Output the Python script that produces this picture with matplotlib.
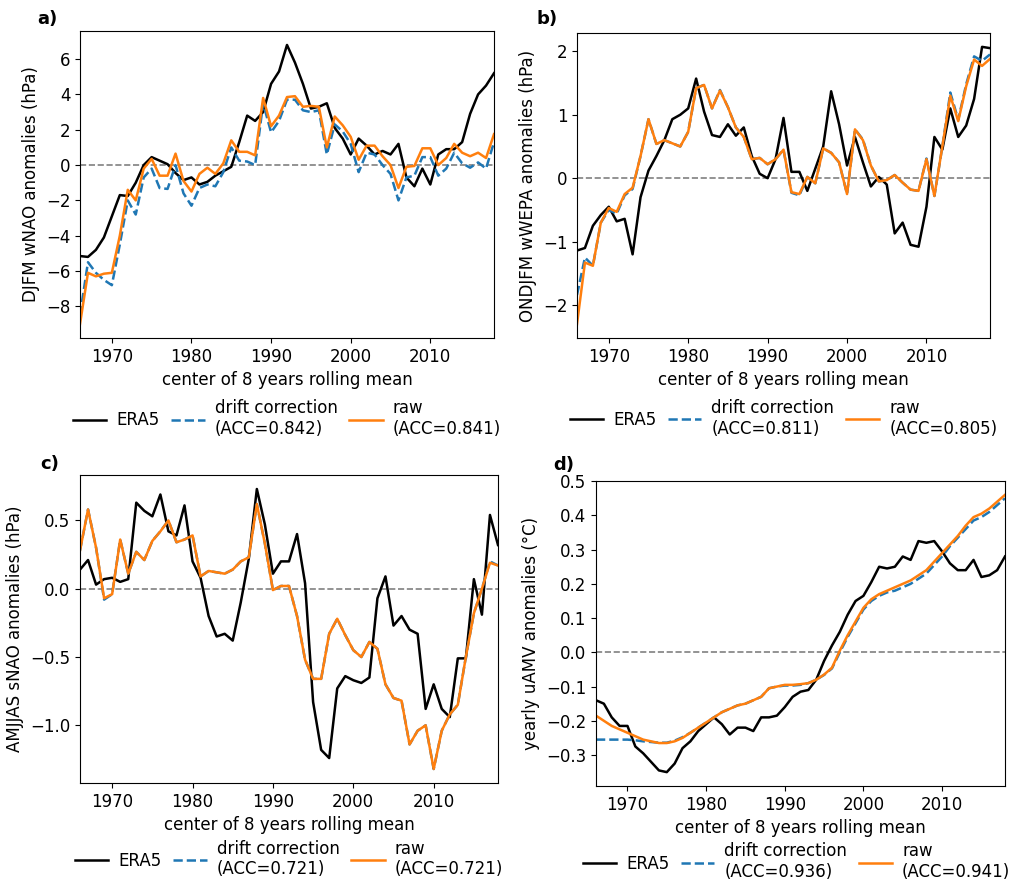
import numpy as np
import matplotlib
matplotlib.use("Agg")
import matplotlib.pyplot as plt

plt.rcParams['font.size'] = 12

# center years of the 8-year rolling mean
years = np.arange(1966, 2019)

# a) DJFM wNAO
era5_a = [-5.15, -5.2, -4.8, -4.1, -2.9, -1.7, -1.75, -1.0, 0.0, 0.45,
          0.25, 0.05, -0.45, -0.85, -0.7, -1.1, -0.95, -0.6, -0.35, -0.1,
          1.3, 2.8, 2.5, 3.0, 4.6, 5.3, 6.8, 5.8, 4.6, 3.2,
          3.3, 3.5, 2.1, 1.5, 0.6, 1.5, 1.1, 0.6, 0.8, 0.6,
          1.2, -0.7, -1.2, -0.2, -1.1, 0.6, 0.9, 0.9, 1.3, 2.9,
          4.0, 4.5, 5.2]
drift_a = [-8.5, -5.5, -6.1, -6.5, -6.8, -4.5, -2.0, -2.8, -0.7, -0.2,
           -1.3, -1.35, 0.0, -1.6, -2.3, -1.3, -1.1, -1.2, -0.4, 1.0,
           0.25, 0.2, 0.0, 3.5, 1.85, 2.5, 3.7, 3.7, 3.1, 3.0,
           3.1, 0.6, 2.3, 1.9, 1.2, -0.4, 0.7, 0.6, 0.0, -0.5,
           -2.0, -0.7, -0.6, 0.45, 0.45, -0.6, -0.2, 0.7, 0.1, -0.15,
           0.15, -0.2, 1.3]
raw_a = [-9.0, -6.1, -6.3, -6.15, -6.1, -4.0, -1.4, -2.0, -0.2, 0.35,
         -0.6, -0.6, 0.65, -0.9, -1.5, -0.5, -0.15, -0.5, 0.1, 1.4,
         0.75, 0.75, 0.55, 3.8, 2.2, 2.8, 3.85, 3.9, 3.3, 3.35,
         3.3, 1.0, 2.75, 2.25, 1.6, 0.3, 1.1, 1.1, 0.5, 0.0,
         -1.3, -0.1, -0.05, 0.95, 0.95, 0.0, 0.4, 1.2, 0.7, 0.5,
         0.7, 0.4, 1.75]

# b) ONDJFM wWEPA
era5_b = [-1.14, -1.1, -0.75, -0.58, -0.45, -0.68, -0.64, -1.2, -0.3, 0.12,
          0.35, 0.6, 0.93, 1.0, 1.1, 1.57, 1.05, 0.68, 0.65, 0.85,
          0.67, 0.8, 0.35, 0.07, 0.0, 0.3, 0.95, 0.1, 0.1, -0.2,
          0.15, 0.5, 1.37, 0.85, 0.2, 0.65, 0.25, -0.13, 0.02, -0.1,
          -0.87, -0.7, -1.05, -1.08, -0.45, 0.65, 0.45, 1.1, 0.65, 0.83,
          1.25, 2.07, 2.05]
drift_b = [-1.84, -1.25, -1.38, -0.7, -0.5, -0.56, -0.27, -0.17, 0.35, 0.93,
           0.54, 0.6, 0.55, 0.5, 0.73, 1.42, 1.47, 1.1, 1.39, 1.12,
           0.8, 0.65, 0.3, 0.32, 0.22, 0.3, 0.45, -0.23, -0.27, 0.02,
           -0.08, 0.47, 0.4, 0.25, -0.25, 0.77, 0.61, 0.2, -0.05, -0.03,
           0.05, -0.07, -0.18, -0.2, 0.31, -0.28, 0.5, 1.35, 0.92, 1.48,
           1.92, 1.85, 1.95]
raw_b = [-2.3, -1.33, -1.38, -0.7, -0.47, -0.53, -0.25, -0.15, 0.35, 0.93,
         0.54, 0.6, 0.55, 0.5, 0.73, 1.42, 1.47, 1.1, 1.38, 1.12,
         0.8, 0.65, 0.3, 0.32, 0.22, 0.3, 0.45, -0.22, -0.25, 0.02,
         -0.08, 0.47, 0.4, 0.25, -0.25, 0.77, 0.6, 0.2, -0.05, -0.03,
         0.05, -0.07, -0.18, -0.2, 0.3, -0.28, 0.5, 1.3, 0.9, 1.45,
         1.87, 1.77, 1.88]

# c) AMJJAS sNAO
era5_c = [0.14, 0.21, 0.03, 0.07, 0.08, 0.05, 0.07, 0.63, 0.57, 0.53,
          0.69, 0.42, 0.39, 0.61, 0.2, 0.08, -0.2, -0.35, -0.33, -0.38,
          -0.1, 0.22, 0.73, 0.47, 0.11, 0.2, 0.2, 0.4, 0.04, -0.83,
          -1.18, -1.24, -0.73, -0.64, -0.67, -0.69, -0.65, -0.07, 0.09, -0.27,
          -0.2, -0.3, -0.33, -0.88, -0.7, -0.88, -0.94, -0.51, -0.51, 0.07,
          -0.19, 0.54, 0.32]
drift_c = [0.28, 0.58, 0.3, -0.08, -0.04, 0.36, 0.11, 0.27, 0.21, 0.35,
           0.42, 0.5, 0.34, 0.36, 0.39, 0.09, 0.13, 0.12, 0.11, 0.14,
           0.2, 0.23, 0.62, 0.33, -0.01, 0.02, 0.02, -0.2, -0.52, -0.66,
           -0.66, -0.33, -0.22, -0.34, -0.45, -0.5, -0.39, -0.44, -0.7, -0.8,
           -0.82, -1.14, -1.04, -1.0, -1.32, -1.04, -0.92, -0.85, -0.5, -0.18,
           0.0, 0.2, 0.17]
raw_c = [0.28, 0.58, 0.3, -0.07, -0.04, 0.36, 0.11, 0.27, 0.21, 0.35,
         0.42, 0.5, 0.34, 0.36, 0.39, 0.09, 0.13, 0.12, 0.11, 0.14,
         0.2, 0.23, 0.62, 0.33, -0.01, 0.02, 0.02, -0.2, -0.52, -0.66,
         -0.66, -0.33, -0.22, -0.34, -0.45, -0.5, -0.39, -0.44, -0.7, -0.8,
         -0.82, -1.14, -1.04, -1.0, -1.32, -1.04, -0.92, -0.85, -0.5, -0.18,
         0.0, 0.19, 0.17]

# d) yearly uAMV
era5_d = [-0.14, -0.15, -0.19, -0.215, -0.215, -0.275, -0.295, -0.32, -0.345, -0.35,
          -0.325, -0.28, -0.26, -0.23, -0.21, -0.19, -0.21, -0.24, -0.22, -0.22,
          -0.23, -0.19, -0.19, -0.185, -0.16, -0.13, -0.115, -0.11, -0.08, -0.025,
          0.02, 0.06, 0.11, 0.15, 0.165, 0.205, 0.25, 0.245, 0.25, 0.28,
          0.27, 0.325, 0.32, 0.325, 0.295, 0.26, 0.24, 0.24, 0.27, 0.22,
          0.225, 0.24, 0.28]
drift_d = [-0.255, -0.255, -0.255, -0.255, -0.255, -0.257, -0.26, -0.262, -0.264, -0.264,
           -0.258, -0.248, -0.235, -0.22, -0.205, -0.19, -0.175, -0.165, -0.155, -0.15,
           -0.14, -0.13, -0.105, -0.1, -0.097, -0.097, -0.095, -0.09, -0.08, -0.066,
           -0.047, 0.0, 0.045, 0.085, 0.125, 0.15, 0.165, 0.175, 0.18, 0.19,
           0.2, 0.215, 0.23, 0.255, 0.28, 0.31, 0.335, 0.36, 0.385, 0.395,
           0.41, 0.43, 0.45]
raw_d = [-0.185, -0.2, -0.215, -0.225, -0.235, -0.245, -0.255, -0.26, -0.265, -0.265,
         -0.26, -0.25, -0.235, -0.22, -0.205, -0.19, -0.175, -0.165, -0.155, -0.15,
         -0.14, -0.13, -0.105, -0.1, -0.095, -0.095, -0.093, -0.09, -0.08, -0.065,
         -0.045, 0.005, 0.05, 0.09, 0.13, 0.155, 0.17, 0.18, 0.19, 0.2,
         0.21, 0.225, 0.24, 0.265, 0.29, 0.315, 0.34, 0.37, 0.395, 0.405,
         0.42, 0.44, 0.46]

ylabels = ["DJFM wNAO anomalies (hPa)", "ONDJFM wWEPA anomalies (hPa)",
           "AMJJAS sNAO anomalies (hPa)", "yearly uAMV anomalies (°C)"]
acc_drift = ["0.842", "0.811", "0.721", "0.936"]
acc_raw = ["0.841", "0.805", "0.721", "0.941"]
panel_names = ["a)", "b)", "c)", "d)"]

W, H = 1013, 883
fig = plt.figure(figsize=(W / 100, H / 100), dpi=100)

# axes boxes in pixels: left, right, top, bottom
boxes = [(80, 494, 31, 338), (577, 990, 33, 338),
         (80, 498, 475, 783), (596, 1005, 481, 786)]
label_pos = [(37, 10), (536, 10), (40, 455), (553, 456)]
legend_anchor = [(0.5, -0.15), (0.5, -0.15), (0.5, -0.135), (0.49, -0.135)]

series = [(era5_a, drift_a, raw_a), (era5_b, drift_b, raw_b),
          (era5_c, drift_c, raw_c), (era5_d, drift_d, raw_d)]

for i, (l, r, t, b) in enumerate(boxes):
    ax = fig.add_axes([l / W, 1 - b / H, (r - l) / W, (b - t) / H])
    era5, drift, raw = series[i]
    ax.axhline(0, color='gray', ls='--', lw=1.2)
    ax.plot(years, era5, color='black', lw=1.8, label='ERA5')
    ax.plot(years, drift, color='tab:blue', ls='--', lw=1.8,
            label='drift correction\n(ACC=%s)' % acc_drift[i])
    ax.plot(years, raw, color='tab:orange', lw=1.8,
            label='raw\n(ACC=%s)' % acc_raw[i])
    ax.set_xlim(1966, 2018)
    ax.set_xticks([1970, 1980, 1990, 2000, 2010])
    ax.set_xlabel('center of 8 years rolling mean')
    ax.set_ylabel(ylabels[i])
    if i == 3:
        ax.set_yticks([-0.3, -0.2, -0.1, 0.0, 0.1, 0.2, 0.3, 0.4, 0.5])
    ax.legend(loc='upper center', bbox_to_anchor=legend_anchor[i], ncol=3,
              frameon=False, handletextpad=0.6, columnspacing=0.7,
              labelspacing=0.3)
    fig.text(label_pos[i][0] / W, 1 - label_pos[i][1] / H, panel_names[i],
             fontweight='bold', fontsize=13, va='top', ha='left')

fig.savefig('out.png', dpi=100)
